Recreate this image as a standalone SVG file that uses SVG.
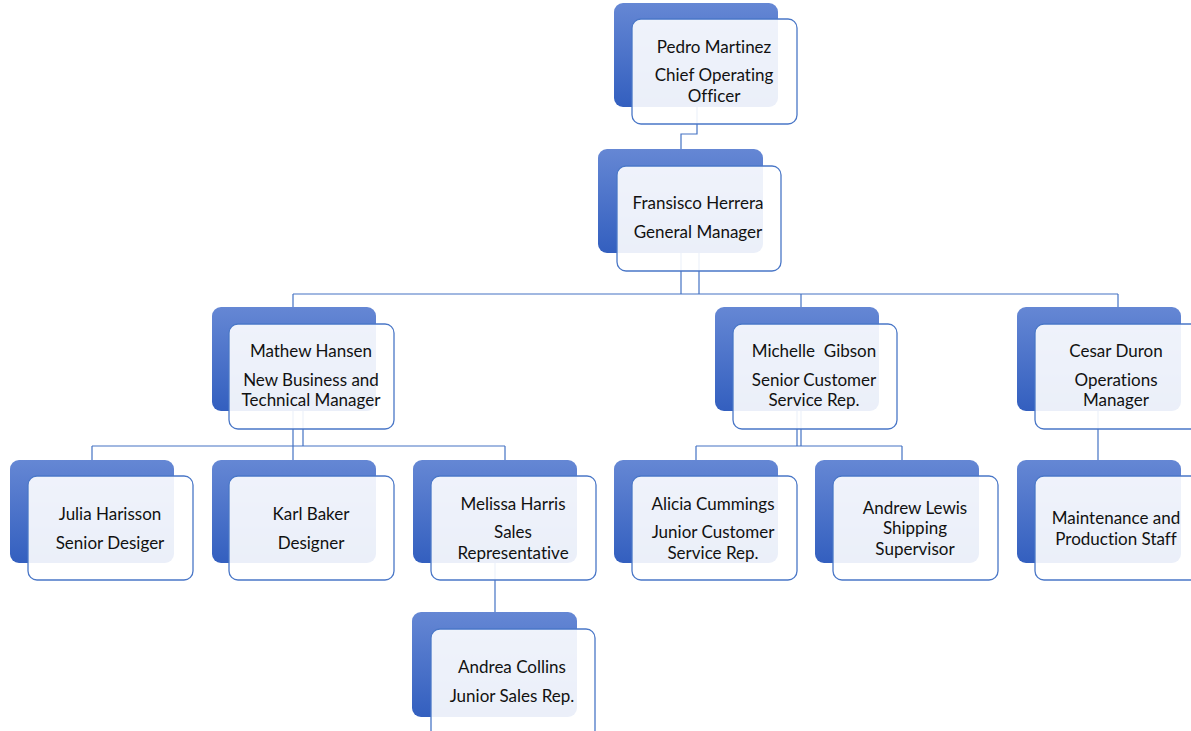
<svg xmlns="http://www.w3.org/2000/svg" width="1191" height="731" viewBox="0 0 1191 731">
<defs>
<linearGradient id="g" x1="0" y1="0" x2="0" y2="1">
<stop offset="0" stop-color="#6587d4"/>
<stop offset="1" stop-color="#335fbf"/>
</linearGradient>
</defs>
<style>
.bk{fill:url(#g);}
.fr{fill:#ffffff;fill-opacity:0.9;stroke:#4a77c7;stroke-width:1.3;}
.cn{fill:none;stroke:#4472c4;stroke-width:1.2;}
text{font-family:Lato,"Open Sans",sans-serif;font-size:17px;fill:#111;text-anchor:middle;font-variant-ligatures:none;font-feature-settings:"liga" 0,"dlig" 0;}
</style>
<rect width="1191" height="731" fill="#fff"/>
<g id="connectors">
<path class="cn" d="M697 107V134H681V149"/>
<path class="cn" d="M681 253V294M699 253V294"/>
<path class="cn" d="M293 294H1118M293 294V307M801 294V307M1118 294V307"/>
<path class="cn" d="M293 411V446M303 411V446M92 446H505M92 446V460M293 446V460M505 446V460"/>
<path class="cn" d="M797 411V446M801 411V446M696 446H902M696 446V460M902 446V460"/>
<path class="cn" d="M1098 411V460"/>
<path class="cn" d="M495 563V612"/>
</g>
<g id="pedro">
<rect class="bk" x="614" y="3" width="164" height="104" rx="9"/>
<rect class="fr" x="632" y="19" width="165" height="105" rx="9"/>
<text x="714" y="53">Pedro Martinez</text>
<text x="714" y="81">Chief Operating</text>
<text x="714" y="102">Officer</text>
</g>
<g id="fransisco">
<rect class="bk" x="598" y="149" width="165" height="104" rx="9"/>
<rect class="fr" x="617" y="166" width="164" height="105" rx="9"/>
<text x="698" y="209">Fransisco Herrera</text>
<text x="698" y="238">General Manager</text>
</g>
<g id="mathew">
<rect class="bk" x="212" y="307" width="164" height="104" rx="9"/>
<rect class="fr" x="229" y="324" width="165" height="105" rx="9"/>
<text x="311" y="357">Mathew Hansen</text>
<text x="311" y="386">New Business and</text>
<text x="311" y="406">Technical Manager</text>
</g>
<g id="michelle">
<rect class="bk" x="715" y="307" width="164" height="104" rx="9"/>
<rect class="fr" x="733" y="324" width="164" height="105" rx="9"/>
<text x="814" y="357" xml:space="preserve">Michelle  Gibson</text>
<text x="814" y="386">Senior Customer</text>
<text x="814" y="406">Service Rep.</text>
</g>
<g id="cesar">
<rect class="bk" x="1017" y="307" width="164" height="104" rx="9"/>
<rect class="fr" x="1035" y="324" width="165" height="105" rx="9"/>
<text x="1116" y="357">Cesar Duron</text>
<text x="1116" y="386">Operations</text>
<text x="1116" y="406">Manager</text>
</g>
<g id="julia">
<rect class="bk" x="10" y="460" width="164" height="103" rx="9"/>
<rect class="fr" x="28" y="476" width="165" height="104" rx="9"/>
<text x="110" y="520">Julia Harisson</text>
<text x="110" y="549">Senior Desiger</text>
</g>
<g id="karl">
<rect class="bk" x="212" y="460" width="164" height="103" rx="9"/>
<rect class="fr" x="229" y="476" width="165" height="104" rx="9"/>
<text x="311" y="520">Karl Baker</text>
<text x="311" y="549">Designer</text>
</g>
<g id="melissa">
<rect class="bk" x="413" y="460" width="164" height="103" rx="9"/>
<rect class="fr" x="431" y="476" width="165" height="104" rx="9"/>
<text x="513" y="510">Melissa Harris</text>
<text x="513" y="538">Sales</text>
<text x="513" y="559">Representative</text>
</g>
<g id="alicia">
<rect class="bk" x="614" y="460" width="164" height="103" rx="9"/>
<rect class="fr" x="632" y="476" width="165" height="104" rx="9"/>
<text x="713" y="510">Alicia Cummings</text>
<text x="713" y="538">Junior Customer</text>
<text x="713" y="559">Service Rep.</text>
</g>
<g id="andrew">
<rect class="bk" x="815" y="460" width="164" height="103" rx="9"/>
<rect class="fr" x="833" y="476" width="165" height="104" rx="9"/>
<text x="915" y="514">Andrew Lewis</text>
<text x="915" y="534">Shipping</text>
<text x="915" y="555">Supervisor</text>
</g>
<g id="maintenance">
<rect class="bk" x="1017" y="460" width="164" height="103" rx="9"/>
<rect class="fr" x="1035" y="476" width="165" height="104" rx="9"/>
<text x="1116" y="524">Maintenance and</text>
<text x="1116" y="545">Production Staff</text>
</g>
<g id="andrea">
<rect class="bk" x="412" y="612" width="165" height="105" rx="9"/>
<rect class="fr" x="431" y="629" width="164" height="110" rx="9"/>
<text x="512" y="673">Andrea Collins</text>
<text x="512" y="702">Junior Sales Rep.</text>
</g>
</svg>
